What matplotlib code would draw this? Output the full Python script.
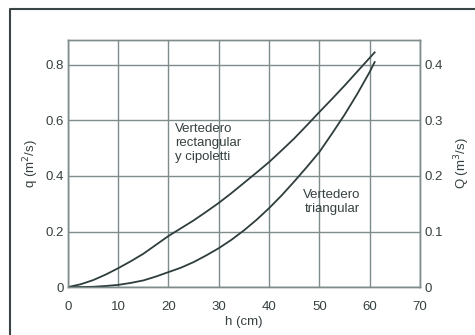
import numpy as np
import matplotlib.pyplot as plt
from matplotlib.lines import Line2D

# Datos (cada 2.5 cm)
h = [0, 2.5, 5, 7.5, 10, 12.5, 15, 17.5, 20, 22.5, 25, 27.5, 30, 32.5, 35, 37.5,
     40, 42.5, 45, 47.5, 50, 52.5, 55, 57.5, 60, 61]
q_rect = [0, 0.01, 0.025, 0.045, 0.068, 0.093, 0.12, 0.152, 0.184, 0.212, 0.24, 0.271,
          0.303, 0.338, 0.375, 0.412, 0.45, 0.492, 0.535, 0.582, 0.63, 0.677, 0.725,
          0.775, 0.825, 0.845]
Q_tri = [0, 0.0001, 0.0005, 0.002, 0.004, 0.0075, 0.012, 0.019, 0.027, 0.035, 0.045,
         0.057, 0.07, 0.085, 0.102, 0.121, 0.142, 0.165, 0.19, 0.216, 0.243, 0.276,
         0.31, 0.347, 0.387, 0.405]

x_ticks = [0, 10, 20, 30, 40, 50, 60, 70]
q_ticks = [0, 0.2, 0.4, 0.6, 0.8]
q_labels = ['0', '0.2', '0.4', '0.6', '0.8']
Q_ticks = [0, 0.1, 0.2, 0.3, 0.4]
Q_labels = ['0', '0.1', '0.2', '0.3', '0.4']

fuente = ['Liberation Sans Narrow', 'Liberation Sans', 'DejaVu Sans']
plt.rcParams['font.family'] = fuente

col_linea = '#2f3d3d'
col_grid = '#7f8c8c'
col_texto = '#364040'

fig = plt.figure(figsize=(4.75, 3.35), dpi=100)
ax = fig.add_axes([0.143, 0.143, 0.741, 0.738])

ax.plot(h, q_rect, color=col_linea, lw=1.3)
ax.set_xlim(0, 70)
ax.set_ylim(0, 0.89)
ax.set_xticks(x_ticks)
ax.set_yticks(q_ticks)
ax.set_yticklabels(q_labels)
ax.grid(True, color=col_grid, lw=1.0)
ax.tick_params(axis='x', length=0, pad=10, labelsize=9.5, colors=col_texto)
ax.tick_params(axis='y', length=0, pad=3, labelsize=9.5, colors=col_texto)
for s in ax.spines.values():
    s.set_color(col_grid)
    s.set_linewidth(1.0)

ax2 = ax.twinx()
ax2.plot(h, Q_tri, color=col_linea, lw=1.3)
ax2.set_ylim(0, 0.445)
ax2.set_yticks(Q_ticks)
ax2.set_yticklabels(Q_labels)
ax2.tick_params(length=0, pad=3, labelsize=9.5, colors=col_texto)
for s in ax2.spines.values():
    s.set_color(col_grid)
    s.set_linewidth(1.0)

ax.set_xlabel('h (cm)', fontsize=9.5, color=col_texto, labelpad=2)
ax.set_ylabel('q (m$^2$/s)', fontsize=9.5, color=col_texto, labelpad=3)
ax2.set_ylabel('Q (m$^3$/s)', fontsize=9.5, color=col_texto, labelpad=7)

ax.text(21.3, 0.59, 'Vertedero\nrectangular\ny cipoletti', fontsize=9.5,
        color=col_texto, ha='left', va='top', linespacing=1.2)
ax.text(52.5, 0.305, 'Vertedero\ntriangular', fontsize=9.5,
        color=col_texto, ha='center', va='center', linespacing=1.2)

# marco exterior
fig.add_artist(Line2D([10 / 475, 10 / 475, 1], [0, 1 - 9 / 335, 1 - 9 / 335],
                      transform=fig.transFigure, color='#3a4545', lw=1.5))

fig.savefig('out.png', dpi=100)
